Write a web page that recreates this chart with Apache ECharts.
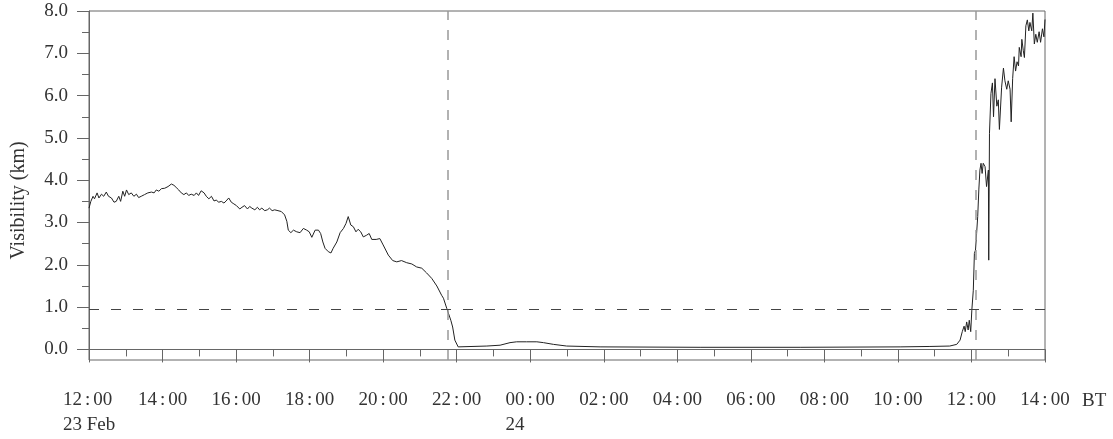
<!DOCTYPE html>
<html>
<head>
<meta charset="utf-8">
<script src="https://cdn.jsdelivr.net/npm/echarts@6/dist/echarts.min.js"></script>
<style>
  html, body { margin: 0; padding: 0; background: #fff; }
  #chart { width: 1113px; height: 439px; }
</style>
</head>
<body>
<div id="chart"></div>
<script>
// hours after 12:00 on 23 Feb
const hours = [
  0.00, 0.05, 0.11, 0.15, 0.22, 0.27, 0.34, 0.40, 0.47, 0.53, 0.61, 0.68, 0.74, 0.81, 0.86, 0.92,
  0.97, 1.02, 1.08, 1.15, 1.22, 1.29, 1.35, 1.42, 1.51, 1.60, 1.70, 1.77, 1.83, 1.90, 1.97, 2.06,
  2.15, 2.24, 2.31, 2.37, 2.44, 2.51, 2.58, 2.65, 2.71, 2.78, 2.86, 2.92, 2.98, 3.05, 3.13, 3.19,
  3.26, 3.33, 3.40, 3.46, 3.53, 3.60, 3.67, 3.73, 3.80, 3.87, 3.94, 4.01, 4.10, 4.16, 4.23, 4.31,
  4.37, 4.43, 4.51, 4.58, 4.64, 4.70, 4.78, 4.85, 4.91, 4.98, 5.05, 5.14, 5.23, 5.32, 5.38,
  5.42, 5.49, 5.56, 5.65, 5.74, 5.83, 5.92, 5.99, 6.06, 6.15, 6.24, 6.30, 6.36, 6.42, 6.51,
  6.58, 6.64, 6.74, 6.83, 6.92, 6.99, 7.05, 7.12, 7.19, 7.26, 7.32, 7.39, 7.46, 7.55, 7.62, 7.69,
  7.81, 7.91, 8.00, 8.14, 8.26, 8.37, 8.50, 8.64, 8.78, 8.91, 9.05, 9.18, 9.32, 9.46, 9.59, 9.64,
  9.73, 9.84, 9.89, 9.95, 10.04, 10.82, 11.18, 11.45, 11.63, 11.90, 12.18, 12.36, 12.63, 12.99,
  13.90, 16.62, 19.34, 22.06, 22.87, 23.41,
  23.60, 23.69, 23.75, 23.80, 23.83, 23.87, 23.91, 23.94, 23.98, 24.01, 24.05, 24.08, 24.11, 24.14,
  24.17, 24.20, 24.23, 24.26, 24.29, 24.32, 24.37, 24.41, 24.46, 24.47, 24.49,
  24.53, 24.57, 24.60, 24.64, 24.69, 24.73, 24.76, 24.82, 24.87, 24.91, 24.96, 25.00, 25.05, 25.08,
  25.12, 25.16, 25.20, 25.24, 25.28, 25.30, 25.35, 25.37, 25.41, 25.44, 25.48, 25.52, 25.56, 25.59,
  25.64, 25.67, 25.71, 25.75, 25.79, 25.84, 25.88, 25.93, 25.97, 26.00
]
const visibility = [
  3.34, 3.50, 3.62, 3.56, 3.70, 3.58, 3.67, 3.62, 3.72, 3.62, 3.58, 3.48, 3.50, 3.62, 3.50, 3.74,
  3.62, 3.77, 3.66, 3.70, 3.62, 3.67, 3.59, 3.62, 3.66, 3.70, 3.72, 3.70, 3.77, 3.74, 3.80, 3.81,
  3.85, 3.91, 3.88, 3.83, 3.77, 3.70, 3.66, 3.70, 3.64, 3.67, 3.64, 3.70, 3.64, 3.75, 3.70, 3.62,
  3.56, 3.62, 3.51, 3.53, 3.48, 3.50, 3.46, 3.51, 3.58, 3.48, 3.44, 3.40, 3.32, 3.36, 3.40, 3.32,
  3.38, 3.34, 3.30, 3.36, 3.30, 3.34, 3.28, 3.30, 3.34, 3.28, 3.30, 3.28, 3.26, 3.18, 3.03,
  2.82, 2.76, 2.82, 2.78, 2.76, 2.86, 2.82, 2.78, 2.65, 2.82, 2.82, 2.74, 2.54, 2.39, 2.31,
  2.28, 2.39, 2.54, 2.76, 2.86, 2.98, 3.14, 2.94, 2.90, 2.78, 2.84, 2.78, 2.66, 2.70, 2.74, 2.60,
  2.60, 2.62, 2.47, 2.23, 2.10, 2.07, 2.10, 2.05, 2.02, 1.95, 1.92, 1.81, 1.68, 1.50, 1.28, 1.21,
  0.97, 0.69, 0.53, 0.22, 0.06, 0.08, 0.10, 0.16, 0.18, 0.18, 0.18, 0.16, 0.12, 0.08,
  0.06, 0.05, 0.05, 0.06, 0.07, 0.08,
  0.12, 0.22, 0.42, 0.55, 0.42, 0.65, 0.46, 0.69, 0.42, 0.93, 1.40, 2.27, 2.35, 2.74,
  3.14, 3.77, 4.24, 4.40, 4.16, 4.40, 4.32, 3.85, 4.24, 2.11, 5.11,
  6.05, 6.30, 5.50, 6.40, 5.75, 5.90, 5.20, 6.20, 6.65, 6.35, 6.15, 6.35, 6.15, 5.38,
  6.40, 6.92, 6.58, 6.80, 6.70, 7.14, 6.92, 7.33, 7.06, 6.90, 7.65, 7.79, 7.53, 7.73,
  7.53, 7.95, 7.22, 7.45, 7.26, 7.51, 7.26, 7.58, 7.39, 7.80
]
const yLabelValues = [0, 1, 2, 3, 4, 5, 6, 7, 8]
const yMinorValues = [0.5, 1.5, 2.5, 3.5, 4.5, 5.5, 6.5, 7.5]
const dateLabels = { 0: '23 Feb', 12: '24' }
const fogStart = 9.77
const fogEnd = 24.11
const threshold = 0.95

const font = '"Liberation Serif", serif'
const axisColor = '#666'
const textColor = '#333'

const chart = echarts.init(document.getElementById('chart'), null, { renderer: 'canvas' })

const fmtHour = (v) => {
  const h = (12 + Math.round(v)) % 24
  const hh = (h < 10 ? '0' : '') + h
  const t = `{a|${hh}}{c|:}{a|00}`
  return dateLabels[v] !== undefined ? `${t}\n{b|${dateLabels[v]}}` : t
}

const labelText = { fontFamily: font, fontSize: 19, color: textColor, lineHeight: 25, align: 'left' }

const option = {
  animation: false,
  grid: {
    left: 89, right: 68, top: 11, bottom: 79,
    show: true, borderColor: axisColor, borderWidth: 1
  },
  xAxis: {
    type: 'value',
    min: 0,
    max: 26,
    interval: 2,
    name: 'BT',
    nameLocation: 'end',
    nameGap: 37,
    nameTextStyle: {
      fontFamily: font, fontSize: 19, color: textColor,
      verticalAlign: 'top', padding: [42, 0, 0, 0]
    },
    axisLine: { lineStyle: { color: axisColor, width: 1 } },
    axisTick: { length: 13, lineStyle: { color: axisColor } },
    minorTick: { show: true, splitNumber: 2, length: 7, lineStyle: { color: axisColor } },
    splitLine: { show: false },
    axisLabel: {
      margin: 28,
      formatter: fmtHour,
      rich: {
        a: labelText,
        b: labelText,
        c: Object.assign({}, labelText, { padding: [0, 3, 0, 3] })
      }
    }
  },
  yAxis: [
    {
      type: 'value',
      min: -0.25,
      max: 8,
      name: 'Visibility (km)',
      nameLocation: 'middle',
      nameGap: 60,
      nameTextStyle: { fontFamily: font, fontSize: 20, color: textColor, padding: [0, 30, 0, 0] },
      axisLine: { show: true, lineStyle: { color: axisColor, width: 1 } },
      axisTick: { show: true, length: 12, customValues: yLabelValues, lineStyle: { color: axisColor } },
      splitLine: { show: false },
      axisLabel: {
        margin: 21,
        customValues: yLabelValues,
        formatter: (v) => v.toFixed(1),
        fontFamily: font, fontSize: 19, color: textColor
      }
    },
    {
      type: 'value',
      min: -0.25,
      max: 8,
      position: 'left',
      axisLine: { show: false },
      axisTick: { show: true, length: 7, customValues: yMinorValues, lineStyle: { color: axisColor } },
      axisLabel: { show: false },
      splitLine: { show: false }
    }
  ],
  series: [
    {
      type: 'line',
      data: hours.map((h, i) => [h, visibility[i]]),
      showSymbol: false,
      lineStyle: { color: '#222', width: 1 },
      markLine: {
        silent: true,
        symbol: 'none',
        label: { show: false },
        data: [
          { xAxis: fogStart, lineStyle: { color: '#999', width: 1.5, type: [10, 10] } },
          { xAxis: fogEnd, lineStyle: { color: '#999', width: 1.5, type: [10, 10] } },
          { yAxis: threshold, lineStyle: { color: '#444', width: 1, type: [10, 12] } }
        ]
      }
    }
  ]
}

chart.setOption(option)
</script>
</body>
</html>
